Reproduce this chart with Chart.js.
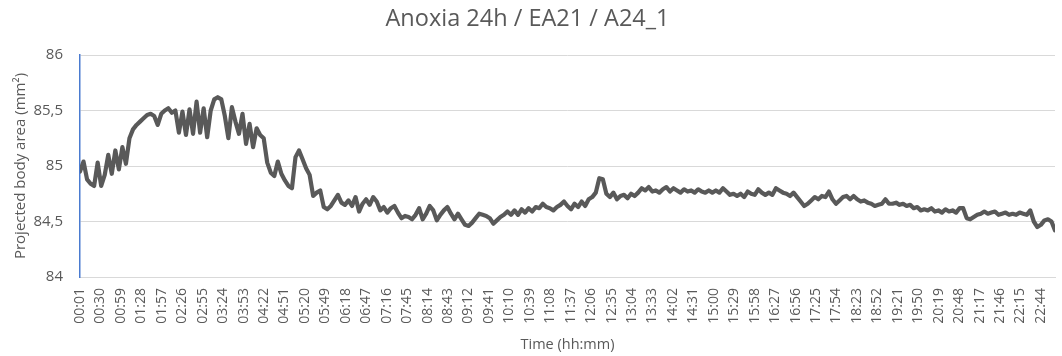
<!DOCTYPE html>
<html>
<head>
<meta charset="utf-8">
<script src="https://cdn.jsdelivr.net/npm/chart.js@4/dist/chart.umd.min.js"></script>
<style>
  html, body { margin: 0; padding: 0; background: #fff; }
  #wrap { width: 1062px; height: 356px; }
</style>
</head>
<body>
<div id="wrap"><canvas id="line-chart" width="1062" height="356"></canvas></div>
<script>
// recording rows (one per minute from 00:01), readings below are spread evenly over them
var lastRow = 1383;
var area = [
  84.95, 85.04, 84.88, 84.84, 84.82, 85.03, 84.82, 84.92, 85.10, 84.93,
  85.14, 84.97, 85.17, 85.02, 85.25, 85.33, 85.37, 85.40, 85.43, 85.46,
  85.47, 85.45, 85.37, 85.47, 85.50, 85.52, 85.48, 85.50, 85.30, 85.49,
  85.28, 85.51, 85.29, 85.58, 85.30, 85.52, 85.26, 85.50, 85.60, 85.62,
  85.60, 85.45, 85.25, 85.53, 85.40, 85.29, 85.47, 85.20, 85.38, 85.17,
  85.34, 85.28, 85.25, 85.03, 84.94, 84.91, 85.04, 84.93, 84.87, 84.82,
  84.80, 85.08, 85.14, 85.06, 84.98, 84.92, 84.73, 84.76, 84.78, 84.63,
  84.61, 84.64, 84.69, 84.74, 84.67, 84.65, 84.69, 84.64, 84.72, 84.59,
  84.66, 84.70, 84.65, 84.72, 84.68, 84.60, 84.63, 84.58, 84.62, 84.64,
  84.58, 84.53, 84.55, 84.54, 84.52, 84.56, 84.62, 84.52, 84.57, 84.64,
  84.60, 84.51, 84.56, 84.60, 84.63, 84.57, 84.52, 84.57, 84.52, 84.47,
  84.46, 84.49, 84.53, 84.57, 84.56, 84.55, 84.53, 84.48, 84.51, 84.54,
  84.56, 84.59, 84.56, 84.60, 84.56, 84.61, 84.58, 84.62, 84.59, 84.63,
  84.62, 84.66, 84.63, 84.62, 84.60, 84.63, 84.65, 84.68, 84.64, 84.61,
  84.66, 84.63, 84.68, 84.64, 84.70, 84.72, 84.76, 84.89, 84.88, 84.75,
  84.72, 84.76, 84.70, 84.73, 84.74, 84.71, 84.75, 84.73, 84.76, 84.80,
  84.78, 84.81, 84.77, 84.78, 84.76, 84.79, 84.81, 84.77, 84.80, 84.78,
  84.76, 84.79, 84.77, 84.78, 84.76, 84.79, 84.77, 84.76, 84.78, 84.76,
  84.78, 84.76, 84.80, 84.77, 84.74, 84.75, 84.73, 84.75, 84.72, 84.77,
  84.75, 84.74, 84.79, 84.76, 84.74, 84.76, 84.74, 84.80, 84.78, 84.76,
  84.75, 84.73, 84.76, 84.72, 84.68, 84.64, 84.66, 84.69, 84.72, 84.70,
  84.73, 84.72, 84.77, 84.70, 84.66, 84.69, 84.72, 84.73, 84.70, 84.73,
  84.70, 84.68, 84.69, 84.67, 84.66, 84.64, 84.65, 84.66, 84.70, 84.66,
  84.66, 84.67, 84.65, 84.66, 84.64, 84.65, 84.62, 84.63, 84.60, 84.61,
  84.60, 84.62, 84.59, 84.60, 84.58, 84.61, 84.59, 84.60, 84.58, 84.62,
  84.62, 84.53, 84.52, 84.54, 84.56, 84.57, 84.59, 84.57, 84.58, 84.59,
  84.56, 84.57, 84.58, 84.56, 84.57, 84.56, 84.58, 84.57, 84.56, 84.60,
  84.50, 84.45, 84.47, 84.51, 84.52, 84.50, 84.42
];
// one label every 29 rows
var tickEvery = 29;
var timeLabels = [
  '00:01', '00:30', '00:59', '01:28', '01:57', '02:26', '02:55', '03:24', '03:53', '04:22',
  '04:51', '05:20', '05:49', '06:18', '06:47', '07:16', '07:45', '08:14', '08:43', '09:12',
  '09:41', '10:10', '10:39', '11:08', '11:37', '12:06', '12:35', '13:04', '13:33', '14:02',
  '14:31', '15:00', '15:29', '15:58', '16:27', '16:56', '17:25', '17:54', '18:23', '18:52',
  '19:21', '19:50', '20:19', '20:48', '21:17', '21:46', '22:15', '22:44'
];
var yTicks = [84, 84.5, 85, 85.5, 86];

var points = [];
var step = lastRow / (area.length - 1);
for (var i = 0; i < area.length; i++) {
  points.push({ x: i * step, y: area[i] });
}

var grey = '#595959';
var font = "'Open Sans', 'Liberation Sans', sans-serif";

new Chart(document.getElementById('line-chart'), {
  type: 'line',
  data: {
    datasets: [{
      data: points,
      borderColor: '#595959',
      borderWidth: 4.2,
      borderJoinStyle: 'round',
      borderCapStyle: 'round',
      pointRadius: 0,
      tension: 0,
      fill: false
    }]
  },
  options: {
    responsive: false,
    animation: false,
    layout: { padding: { left: 0, right: 7, top: 0, bottom: 0 } },
    plugins: {
      legend: { display: false },
      tooltip: { enabled: false },
      title: {
        display: true,
        text: 'Anoxia 24h / EA21 / A24_1',
        color: grey,
        font: { family: font, size: 23.5, weight: 'normal' },
        padding: { top: 5, bottom: 21.8 }
      }
    },
    scales: {
      x: {
        type: 'linear',
        min: 0,
        max: lastRow,
        grid: { display: false, drawTicks: false },
        border: { display: true, color: '#d9d9d9', width: 1 },
        afterBuildTicks: function(scale) {
          scale.ticks = timeLabels.map(function(t, k) { return { value: k * tickEvery }; });
        },
        afterFit: function(scale) {
          scale.height = 79;
          scale.paddingLeft = 0;
          scale.paddingRight = 0;
        },
        ticks: {
          autoSkip: false,
          minRotation: 90,
          maxRotation: 90,
          padding: 11,
          color: grey,
          font: { family: font, size: 14 },
          callback: function(v, idx) { return timeLabels[idx]; }
        },
        title: {
          display: true,
          text: 'Time (hh:mm)',
          color: grey,
          font: { family: font, size: 14.5 },
          padding: { top: 0, bottom: 2.3 }
        }
      },
      y: {
        min: 84,
        max: 86,
        afterBuildTicks: function(scale) {
          scale.ticks = yTicks.map(function(v) { return { value: v }; });
        },
        afterFit: function(scale) { scale.width = 80; },
        grid: { color: '#d9d9d9', lineWidth: 1, drawTicks: false },
        border: { display: true, color: '#4a7bd0', width: 1.5 },
        ticks: {
          padding: 17,
          color: grey,
          font: { family: font, size: 15 },
          callback: function(v) { return String(v).replace('.', ','); }
        },
        title: {
          display: true,
          text: 'Projected body area (mm²)',
          color: grey,
          font: { family: font, size: 15 },
          padding: { top: 12, bottom: 0 }
        }
      }
    }
  }
});
</script>
</body>
</html>
